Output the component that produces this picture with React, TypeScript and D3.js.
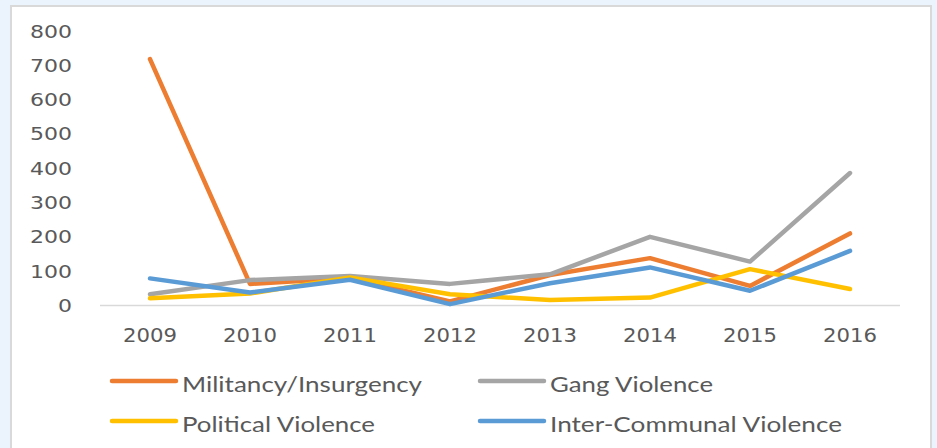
import React from "react";
import * as d3 from "d3";

const years = ["2009", "2010", "2011", "2012", "2013", "2014", "2015", "2016"];
const militancy = [718, 63, 80, 12, 89, 138, 57, 210];
const gang = [33, 74, 86, 63, 91, 200, 128, 386];
const political = [21, 35, 82, 33, 16, 23, 106, 48];
const interCommunal = [79, 38, 75, 4, 65, 111, 43, 159];
const yTicks = [0, 100, 200, 300, 400, 500, 600, 700, 800];

const seriesList = [
  { name: "Militancy/Insurgency", values: militancy, color: "#ED7D31" },
  { name: "Gang Violence", values: gang, color: "#A5A5A5" },
  { name: "Political Violence", values: political, color: "#FFC000" },
  { name: "Inter-Communal Violence", values: interCommunal, color: "#5B9BD5" },
];

const W = 937;
const H = 448;

export default function App() {
  const x = d3.scaleBand<string>().domain(years).range([100, 900]);
  const y = d3.scaleLinear().domain([0, 800]).range([305.5, 31]);
  const line = d3
    .line<number>()
    .x((_, i) => (x(years[i]) as number) + x.bandwidth() / 2)
    .y((d) => y(d));

  const legendPos = [
    { lx: 110, ly: 381 },
    { lx: 478, ly: 381 },
    { lx: 110, ly: 421 },
    { lx: 478, ly: 421 },
  ];
  const legendLen = [240, 163, 193, 292];

  const textColor = "#595959";
  const tickFont = "DejaVu Sans";

  return (
    <div style={{ position: "fixed", left: 0, top: 0 }}>
      <svg width={W} height={H} style={{ display: "block" }}>
        <rect x={0} y={0} width={W} height={H} fill="#EBF4FD" />
        <rect x={11} y={6} width={920} height={460} fill="#FFFFFF" stroke="#D9D9D9" strokeWidth={2} />
        {yTicks.map((t) => (
          <text
            key={t}
            x={72}
            y={y(t) + 6.5}
            textAnchor="end"
            fontFamily={tickFont}
            fontSize={18.5}
            fill={textColor}
            textLength={String(t).length * 14}
            lengthAdjust="spacingAndGlyphs"
          >
            {t}
          </text>
        ))}
        <line x1={100} x2={900} y1={y(0)} y2={y(0)} stroke="#D9D9D9" strokeWidth={1.5} />
        {years.map((yr) => (
          <text
            key={yr}
            x={(x(yr) as number) + x.bandwidth() / 2}
            y={342}
            textAnchor="middle"
            fontFamily={tickFont}
            fontSize={19}
            fill={textColor}
            textLength={54}
            lengthAdjust="spacingAndGlyphs"
          >
            {yr}
          </text>
        ))}
        {seriesList.map((s) => (
          <path
            key={s.name}
            d={line(s.values) || ""}
            fill="none"
            stroke={s.color}
            strokeWidth={4.5}
            strokeLinejoin="round"
            strokeLinecap="round"
          />
        ))}
        {seriesList.map((s, i) => {
          const p = legendPos[i];
          return (
            <g key={s.name}>
              <line
                x1={p.lx + 2}
                x2={p.lx + 66}
                y1={p.ly}
                y2={p.ly}
                stroke={s.color}
                strokeWidth={4.5}
                strokeLinecap="round"
              />
              <text
                x={p.lx + 72}
                y={p.ly + 10.5}
                fontFamily="Lato"
                fontSize={21}
                fill={textColor}
                textLength={legendLen[i]}
                lengthAdjust="spacingAndGlyphs"
              >
                {s.name}
              </text>
            </g>
          );
        })}
      </svg>
    </div>
  );
}
